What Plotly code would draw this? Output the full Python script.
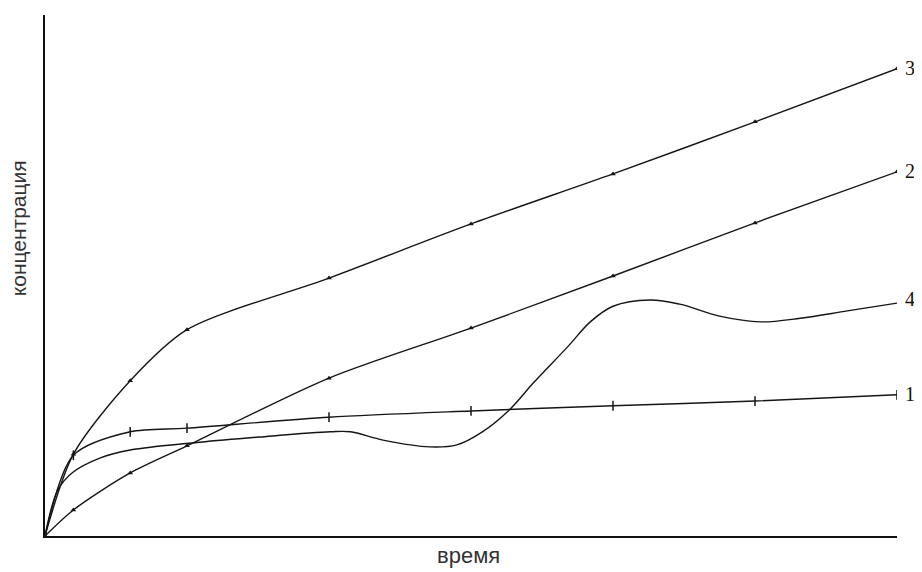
import plotly.graph_objects as go

# time grid of the marked curves
t_marked = [0, 0.2, 0.6, 1.0, 2, 3, 4, 5, 6]
curve1 = [0, 1.55, 2.00, 2.07, 2.28, 2.40, 2.50, 2.59, 2.71]
curve2 = [0, 0.50, 1.21, 1.73, 3.03, 3.99, 4.99, 6.01, 6.99]
curve3 = [0, 1.57, 2.98, 3.96, 4.95, 5.99, 6.95, 7.95, 8.97]

# curve 4 (smooth, no markers)
t4 = [0, 0.09, 0.19, 0.39, 0.60, 1.09, 1.51, 2.01, 2.15, 2.38, 2.71, 2.90,
      3.08, 3.27, 3.44, 3.68, 3.84, 4.00, 4.26, 4.47, 4.75, 5.04, 5.32, 5.65, 6.00]
curve4 = [0, 0.88, 1.21, 1.50, 1.65, 1.80, 1.90, 2.00, 2.00, 1.84, 1.71, 1.75,
          2.00, 2.42, 2.94, 3.63, 4.11, 4.41, 4.53, 4.45, 4.22, 4.11, 4.18, 4.32, 4.47]

curve_labels = ["1", "2", "3", "4"]
x_title = "время"
y_title = "концентрация"

line_col = "#151515"
fig = go.Figure()

fig.add_trace(go.Scatter(x=t_marked, y=curve1, mode="lines+markers",
                         line=dict(color=line_col, width=1.4, shape="spline", smoothing=0.8),
                         marker=dict(symbol="line-ns", size=7, line=dict(color=line_col, width=1.5))))
fig.add_trace(go.Scatter(x=t_marked, y=curve2, mode="lines+markers",
                         line=dict(color=line_col, width=1.4, shape="spline", smoothing=0.8),
                         marker=dict(symbol="triangle-up", size=5, color=line_col)))
fig.add_trace(go.Scatter(x=t_marked, y=curve3, mode="lines+markers",
                         line=dict(color=line_col, width=1.4, shape="spline", smoothing=0.8),
                         marker=dict(symbol="triangle-up", size=5, color=line_col)))
fig.add_trace(go.Scatter(x=t4, y=curve4, mode="lines",
                         line=dict(color=line_col, width=1.4, shape="spline", smoothing=1.0)))

ends = [curve1[-1], curve2[-1], curve3[-1], curve4[-1]]
annotations = []
for lab, yv in zip(curve_labels, ends):
    annotations.append(dict(x=6, y=yv, xref="x", yref="y", text=lab, showarrow=False,
                            xanchor="left", yanchor="middle", xshift=6, yshift=4 if lab == "4" else 1,
                            font=dict(family="Liberation Serif, Times New Roman, serif", size=20, color="#111")))
annotations.append(dict(x=0.497, y=-0.038, xref="paper", yref="paper", text=x_title, showarrow=False,
                        xanchor="center", yanchor="middle",
                        font=dict(family="Liberation Sans, Arial, sans-serif", size=22, color="#333")))
annotations.append(dict(x=-0.031, y=0.59, xref="paper", yref="paper", text=y_title, showarrow=False,
                        textangle=-90, xanchor="center", yanchor="middle",
                        font=dict(family="Liberation Sans, Arial, sans-serif", size=21, color="#333")))

# the page body has an 8px margin, so the figure is sized to fit inside the window
fig.update_layout(
    width=914, height=564,
    margin=dict(l=37, r=25, t=7, b=36),
    paper_bgcolor="white", plot_bgcolor="white",
    showlegend=False,
    annotations=annotations,
    xaxis=dict(range=[0, 6], showline=True, linecolor="#111", linewidth=2, mirror=False,
               showgrid=False, zeroline=False, showticklabels=False, ticks=""),
    yaxis=dict(range=[0, 10], showline=True, linecolor="#111", linewidth=2, mirror=False,
               showgrid=False, zeroline=False, showticklabels=False, ticks=""),
)

fig.write_html("out.html")
